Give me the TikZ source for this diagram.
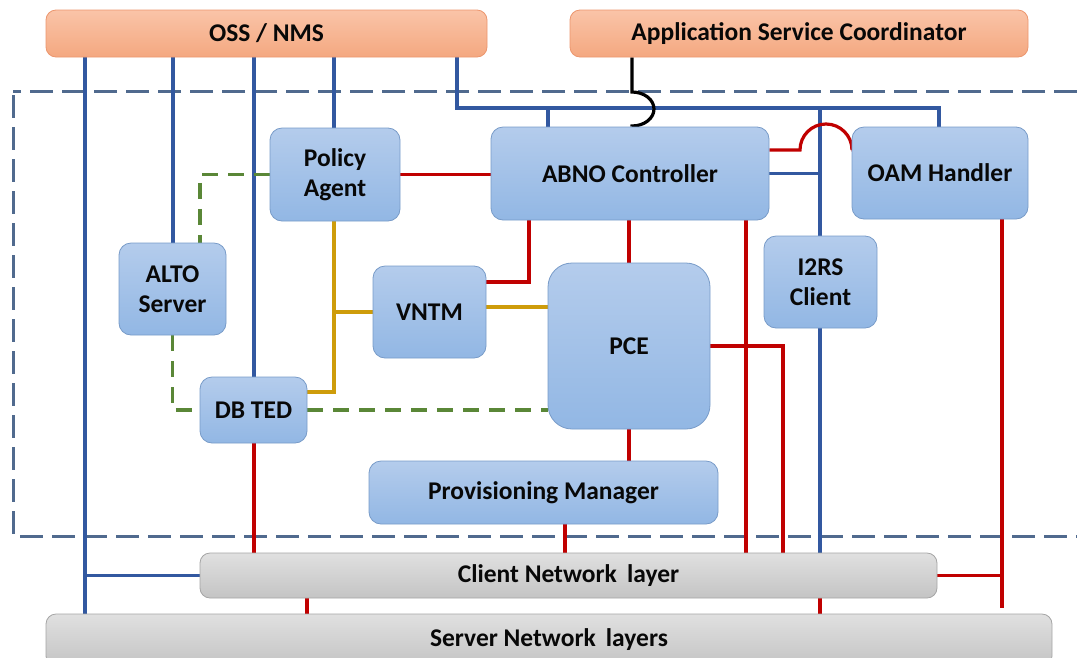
\documentclass[tikz,border=0pt]{standalone}
\usepackage{fontspec}
\setmainfont{Carlito}
\usetikzlibrary{calc}
\definecolor{bluetop}{RGB}{180,204,236}
\definecolor{bluebot}{RGB}{146,183,228}
\definecolor{blueedge}{RGB}{120,155,200}
\definecolor{orgtop}{RGB}{250,196,168}
\definecolor{orgbot}{RGB}{244,168,128}
\definecolor{orgedge}{RGB}{236,150,110}
\definecolor{graytop}{RGB}{224,224,224}
\definecolor{graybot}{RGB}{196,196,196}
\definecolor{grayedge}{RGB}{165,165,165}
\definecolor{bline}{RGB}{50,88,160}
\definecolor{rline}{RGB}{192,0,0}
\definecolor{yline}{RGB}{206,156,10}
\definecolor{gline}{RGB}{90,135,55}
\definecolor{frame}{RGB}{80,106,142}
\definecolor{txt}{RGB}{8,8,8}
\pgfdeclarelayer{background}
\pgfsetlayers{background,main}
\tikzset{
  lbl/.style={font=\fontsize{25.5}{30}\selectfont\bfseries, text=txt, align=center, inner sep=0pt},
  bbox/.style={lbl, rounded corners=12pt, draw=blueedge, line width=0.8pt, top color=bluetop, bottom color=bluebot},
  obox/.style={lbl, rounded corners=10pt, draw=orgedge, line width=0.8pt, top color=orgtop, bottom color=orgbot},
  gbox/.style={lbl, rounded corners=10pt, draw=grayedge, line width=0.8pt, top color=graytop, bottom color=graybot},
  bl/.style={draw=bline, line width=3.2pt},
  rd/.style={draw=rline, line width=3.2pt},
  yl/.style={draw=yline, line width=3.2pt},
  gr/.style={draw=gline, line width=3.8pt, dash pattern=on 16pt off 10pt},
  bk/.style={draw=black, line width=3.2pt},
  frm/.style={draw=frame, line width=3pt, dash pattern=on 23pt off 9pt, dash phase=-4pt}
}
\begin{document}
\begin{tikzpicture}[x=1pt,y=-1pt]
\useasboundingbox (0,0) rectangle (1077,657);
% boxes
\node[obox, minimum width=441pt, minimum height=47pt] (oss) at (266.5,33.5) {OSS / NMS};
\node[obox, minimum width=458pt, minimum height=47pt] (asc) at (799,33.5) {Application Service Coordinator};
\node[bbox, minimum width=130pt, minimum height=93pt] (policy) at (335,174.5) {Policy\\Agent};
\node[bbox, minimum width=278pt, minimum height=93pt] (abno) at (630,173.5) {ABNO Controller};
\node[bbox, minimum width=176pt, minimum height=92pt] (oam) at (940,173) {OAM Handler};
\node[bbox, minimum width=107pt, minimum height=92pt] (alto) at (172.5,289) {ALTO\\Server};
\node[bbox, minimum width=113pt, minimum height=92pt] (vntm) at (429.5,312) {VNTM};
\node[bbox, rounded corners=24pt, minimum width=162pt, minimum height=166pt] (pce) at (629,346) {PCE};
\node[bbox, minimum width=113pt, minimum height=92pt] (i2rs) at (820.5,282) {I2RS\\Client};
\node[bbox, minimum width=107pt, minimum height=66pt] (dbted) at (253.5,410) {DB TED};
\node[bbox, minimum width=349pt, minimum height=63pt] (prov) at (543.5,492.5) {Provisioning Manager};
\node[gbox, minimum width=737pt, minimum height=45pt] (client) at (568.5,575.5) {Client Network\hspace{0.4em}layer};
\node[gbox, minimum width=1006pt, minimum height=52pt] (server) at (549,640) {Server Network\hspace{0.4em}layers};
% helper coordinates
\coordinate (xa) at (85,0);
\coordinate (xb) at (173,0);
\coordinate (xc) at (254,0);
\coordinate (xd) at (334,0);
\coordinate (xe) at (457,0);
\coordinate (xf) at (548,0);
\coordinate (xg) at (820,0);
\coordinate (xo) at (939,0);
\coordinate (r1) at (529,0);
\coordinate (r3) at (746,0);
\coordinate (r4) at (783,0);
\coordinate (r5) at (565,0);
\coordinate (r6) at (1002,0);
\coordinate (r7) at (307,0);
\coordinate (g1) at (200,0);
\coordinate (k) at (632,0);
\coordinate (bus) at (0,108);
\coordinate (y282) at (0,282);
\coordinate (y392) at (0,392);
\coordinate (y307) at (0,307);
\coordinate (y150) at (0,150);
\coordinate (y92) at (0,92);
\coordinate (hop) at (800,150);
\coordinate (oamend) at (1002,608);
\begin{pgfonlayer}{background}
\draw[frm] (13,91) rectangle (1110,536);
% blue
\draw[bl] (oss.south -| xa) -- (server.north -| xa);
\draw[bl] (xa |- client.west) -- (client.west);
\draw[bl] (oss.south -| xb) -- (alto.north -| xb);
\draw[bl] (oss.south -| xc) -- (dbted.north -| xc);
\draw[bl] (oss.south -| xd) -- (policy.north -| xd);
\draw[bl] (oss.south -| xe) -- (bus -| xe) -- (bus -| xo) -- (oam.north -| xo);
\draw[bl] (bus -| xf) -- (abno.north -| xf);
\draw[bl] (bus -| xg) -- (i2rs.north -| xg);
\draw[bl] (abno.east) -- (abno.east -| xg);
\draw[bl] (i2rs.south -| xg) -- (client.north -| xg);
% red
\draw[rd] (policy.east) -- (policy.east -| abno.west);
\draw[rd] (abno.south -| r1) -- (r1 |- y282) -- (vntm.east |- y282);
\draw[rd] (abno.south -| pce.north) -- (pce.north);
\draw[rd] (abno.south -| r3) -- (client.north -| r3);
\draw[rd] (abno.east |- y150) -- (hop) arc[start angle=180, end angle=0, radius=26pt] -- (oam.west |- y150);
\draw[rd] (pce.east) -- (pce.east -| r4) -- (client.north -| r4);
\draw[rd] (pce.south) -- (prov.north -| pce.south);
\draw[rd] (prov.south -| r5) -- (client.north -| r5);
\draw[rd] (dbted.south -| xc) -- (client.north -| xc);
\draw[rd] (oam.south -| r6) -- (oamend);
\draw[rd] (client.east) -- (client.east -| r6);
\draw[rd] (client.south -| r7) -- (server.north -| r7);
\draw[rd] (client.south -| xg) -- (server.north -| xg);
% yellow
\draw[yl] (policy.south -| xd) -- (xd |- y392) -- (dbted.east |- y392);
\draw[yl] (xd |- vntm.west) -- (vntm.west);
\draw[yl] (vntm.east |- y307) -- (pce.west |- y307);
% green dashed
\draw[gr] (policy.west) -- (policy.west -| g1) -- (alto.north -| g1);
\draw[gr] (alto.south) -- (alto.south |- dbted.west) -- (dbted.west);
\draw[gr] (dbted.east) -- (dbted.east -| pce.west);
% black
\draw[bk] (asc.south -| k) -- (k |- y92) arc[start angle=90, end angle=-90, x radius=22pt, y radius=17pt] -- (abno.north -| k);
\end{pgfonlayer}
\end{tikzpicture}
\end{document}
